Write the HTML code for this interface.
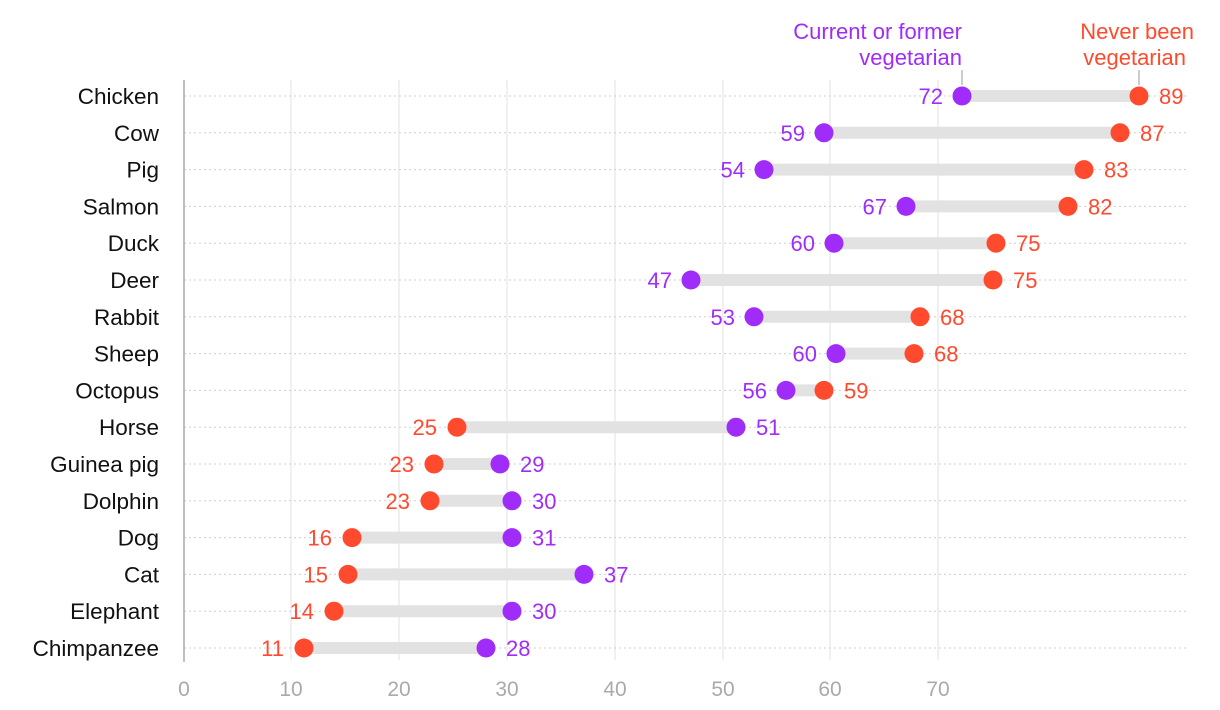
<!DOCTYPE html>
<html><head><meta charset="utf-8"><style>
html,body{margin:0;padding:0;background:#fff;}
svg{display:block;font-family:"Liberation Sans",sans-serif;}
</style></head><body>
<svg width="1220" height="710" viewBox="0 0 1220 710">
<g stroke="#e2e2e2" stroke-width="1">
<line x1="291" y1="80" x2="291" y2="660"/><line x1="399" y1="80" x2="399" y2="660"/>
<line x1="507" y1="80" x2="507" y2="660"/><line x1="615" y1="80" x2="615" y2="660"/>
<line x1="723" y1="80" x2="723" y2="660"/><line x1="830" y1="80" x2="830" y2="660"/>
<line x1="938" y1="80" x2="938" y2="660"/>
</g>
<g stroke="#cfcfcf" stroke-width="1" stroke-dasharray="2,3">
<line x1="184" y1="96" x2="1188" y2="96"/><line x1="184" y1="132.8" x2="1188" y2="132.8"/>
<line x1="184" y1="169.6" x2="1188" y2="169.6"/><line x1="184" y1="206.4" x2="1188" y2="206.4"/>
<line x1="184" y1="243.2" x2="1188" y2="243.2"/><line x1="184" y1="280" x2="1188" y2="280"/>
<line x1="184" y1="316.8" x2="1188" y2="316.8"/><line x1="184" y1="353.6" x2="1188" y2="353.6"/>
<line x1="184" y1="390.4" x2="1188" y2="390.4"/><line x1="184" y1="427.2" x2="1188" y2="427.2"/>
<line x1="184" y1="464" x2="1188" y2="464"/><line x1="184" y1="500.8" x2="1188" y2="500.8"/>
<line x1="184" y1="537.6" x2="1188" y2="537.6"/><line x1="184" y1="574.4" x2="1188" y2="574.4"/>
<line x1="184" y1="611.2" x2="1188" y2="611.2"/><line x1="184" y1="648" x2="1188" y2="648"/>
</g>
<line x1="184" y1="80" x2="184" y2="662" stroke="#aaa" stroke-width="1.5"/>
<g fill="#aaa" font-size="21" text-anchor="middle">
<text x="184" y="696">0</text><text x="291" y="696">10</text><text x="399" y="696">20</text>
<text x="507" y="696">30</text><text x="615" y="696">40</text><text x="723" y="696">50</text>
<text x="830" y="696">60</text><text x="938" y="696">70</text>
</g>
<g font-size="22" text-anchor="end">
<text x="1194" y="39" fill="#ff4a2e">Never been</text><text x="1186" y="65" fill="#ff4a2e">vegetarian</text>
<text x="962" y="39" fill="#a02cfa">Current or former</text><text x="962" y="65" fill="#a02cfa">vegetarian</text>
</g>
<line x1="962" y1="70" x2="962" y2="85" stroke="#999"/>
<line x1="1139" y1="70" x2="1139" y2="85" stroke="#999"/>
<g font-size="22.5" text-anchor="end" fill="#111">
<text x="159" y="104">Chicken</text><text x="159" y="140.8">Cow</text><text x="159" y="177.6">Pig</text>
<text x="159" y="214.4">Salmon</text><text x="159" y="251.2">Duck</text><text x="159" y="288">Deer</text>
<text x="159" y="324.8">Rabbit</text><text x="159" y="361.6">Sheep</text><text x="159" y="398.4">Octopus</text>
<text x="159" y="435.2">Horse</text><text x="159" y="472">Guinea pig</text><text x="159" y="508.8">Dolphin</text>
<text x="159" y="545.6">Dog</text><text x="159" y="582.4">Cat</text><text x="159" y="619.2">Elephant</text>
<text x="159" y="656">Chimpanzee</text>
</g>
<g stroke="#e2e2e2" stroke-width="12">
<line x1="962" y1="96" x2="1139" y2="96"/><line x1="824" y1="132.8" x2="1120" y2="132.8"/>
<line x1="764" y1="169.6" x2="1084" y2="169.6"/><line x1="906" y1="206.4" x2="1068" y2="206.4"/>
<line x1="834" y1="243.2" x2="996" y2="243.2"/><line x1="691" y1="280" x2="993" y2="280"/>
<line x1="754" y1="316.8" x2="920" y2="316.8"/><line x1="836" y1="353.6" x2="914" y2="353.6"/>
<line x1="786" y1="390.4" x2="824" y2="390.4"/><line x1="457" y1="427.2" x2="736" y2="427.2"/>
<line x1="434" y1="464" x2="500" y2="464"/><line x1="430" y1="500.8" x2="512" y2="500.8"/>
<line x1="352" y1="537.6" x2="512" y2="537.6"/><line x1="348" y1="574.4" x2="584" y2="574.4"/>
<line x1="334" y1="611.2" x2="512" y2="611.2"/><line x1="304" y1="648" x2="486" y2="648"/>
</g>
<g fill="#a02cfa">
<circle cx="962" cy="96" r="9.5"/><circle cx="824" cy="132.8" r="9.5"/><circle cx="764" cy="169.6" r="9.5"/>
<circle cx="906" cy="206.4" r="9.5"/><circle cx="834" cy="243.2" r="9.5"/><circle cx="691" cy="280" r="9.5"/>
<circle cx="754" cy="316.8" r="9.5"/><circle cx="836" cy="353.6" r="9.5"/><circle cx="786" cy="390.4" r="9.5"/>
<circle cx="736" cy="427.2" r="9.5"/><circle cx="500" cy="464" r="9.5"/><circle cx="512" cy="500.8" r="9.5"/>
<circle cx="512" cy="537.6" r="9.5"/><circle cx="584" cy="574.4" r="9.5"/><circle cx="512" cy="611.2" r="9.5"/>
<circle cx="486" cy="648" r="9.5"/>
</g>
<g fill="#ff4a2e">
<circle cx="1139" cy="96" r="9.5"/><circle cx="1120" cy="132.8" r="9.5"/><circle cx="1084" cy="169.6" r="9.5"/>
<circle cx="1068" cy="206.4" r="9.5"/><circle cx="996" cy="243.2" r="9.5"/><circle cx="993" cy="280" r="9.5"/>
<circle cx="920" cy="316.8" r="9.5"/><circle cx="914" cy="353.6" r="9.5"/><circle cx="824" cy="390.4" r="9.5"/>
<circle cx="457" cy="427.2" r="9.5"/><circle cx="434" cy="464" r="9.5"/><circle cx="430" cy="500.8" r="9.5"/>
<circle cx="352" cy="537.6" r="9.5"/><circle cx="348" cy="574.4" r="9.5"/><circle cx="334" cy="611.2" r="9.5"/>
<circle cx="304" cy="648" r="9.5"/>
</g>
<g font-size="22" fill="#a02cfa" text-anchor="end">
<text x="943" y="104">72</text><text x="805" y="140.8">59</text><text x="745" y="177.6">54</text>
<text x="887" y="214.4">67</text><text x="815" y="251.2">60</text><text x="672" y="288">47</text>
<text x="735" y="324.8">53</text><text x="817" y="361.6">60</text><text x="767" y="398.4">56</text>
</g>
<g font-size="22" fill="#a02cfa" text-anchor="start">
<text x="756" y="435.2">51</text><text x="520" y="472">29</text><text x="532" y="508.8">30</text>
<text x="532" y="545.6">31</text><text x="604" y="582.4">37</text><text x="532" y="619.2">30</text>
<text x="506" y="656">28</text>
</g>
<g font-size="22" fill="#ff4a2e" text-anchor="start">
<text x="1159" y="104">89</text><text x="1140" y="140.8">87</text><text x="1104" y="177.6">83</text>
<text x="1088" y="214.4">82</text><text x="1016" y="251.2">75</text><text x="1013" y="288">75</text>
<text x="940" y="324.8">68</text><text x="934" y="361.6">68</text><text x="844" y="398.4">59</text>
</g>
<g font-size="22" fill="#ff4a2e" text-anchor="end">
<text x="437" y="435.2">25</text><text x="414" y="472">23</text><text x="410" y="508.8">23</text>
<text x="332" y="545.6">16</text><text x="328" y="582.4">15</text><text x="314" y="619.2">14</text>
<text x="284" y="656">11</text>
</g>
</svg>
</body></html>
